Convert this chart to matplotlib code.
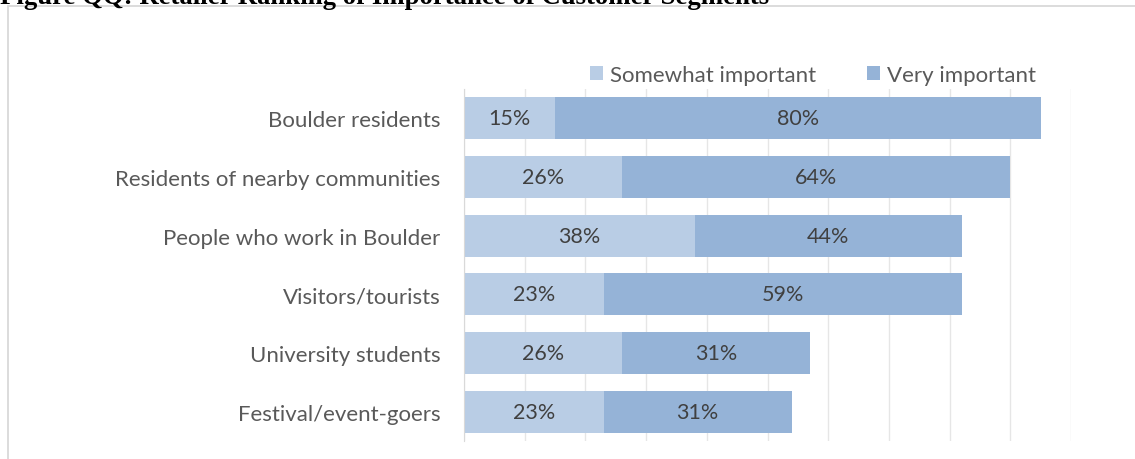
import matplotlib
matplotlib.use("Agg")
import matplotlib.pyplot as plt
from matplotlib.patches import Rectangle
import numpy as np

categories = ["Boulder residents", "Residents of nearby communities", "People who work in Boulder",
              "Visitors/tourists", "University students", "Festival/event-goers"]
somewhat = [15, 26, 38, 23, 26, 23]
very = [80, 64, 44, 59, 31, 31]
series_names = ["Somewhat important", "Very important"]
title = "Figure QQ: Retailer Ranking of Importance of Customer Segments"

c_light = "#B9CDE5"
c_dark = "#95B3D7"
FONT = "Lato"

W, H = 1135, 460
fig = plt.figure(figsize=(W / 100, H / 100), dpi=100)

# border box (bottom and right edges run off the picture)
fig.patches.append(Rectangle((8 / W, -0.2), 1.2, 1.2 - 7 / H, transform=fig.transFigure,
                             fill=False, edgecolor="#D9D9D9", linewidth=1.3))
fig.text(0 / W, 1 - 4 / H, title, family="Liberation Serif", fontweight="bold",
         fontsize=19.3, va="baseline", ha="left", color="black")

ax = fig.add_axes([464 / W, 1 - 442 / H, (1071 - 464) / W, (442 - 90) / H])
y = np.arange(len(categories))
h = 0.72
b1 = ax.barh(y, somewhat, height=h, color=c_light, label=series_names[0], zorder=2)
b2 = ax.barh(y, very, left=somewhat, height=h, color=c_dark, label=series_names[1], zorder=2)
for i in range(len(categories)):
    ax.text(somewhat[i] / 2, y[i], f"{somewhat[i]}%", ha="center", va="center",
            fontsize=15.5, color="#404040", family=FONT)
    ax.text(somewhat[i] + very[i] / 2, y[i], f"{very[i]}%", ha="center", va="center",
            fontsize=15.5, color="#404040", family=FONT)

ax.set_xlim(0, 100)
ax.set_ylim(len(categories) - 0.5, -0.5)
ax.set_xticks(np.arange(0, 101, 10))
ax.xaxis.grid(True, color="#E6E6E6", linewidth=1, zorder=0)
ax.tick_params(axis="x", length=0, labelbottom=False)
ax.tick_params(axis="y", length=0, pad=17)
ax.set_yticks(y)
ax.set_yticklabels(categories, fontsize=16, color="#595959", family=FONT)
for s in ["top", "right", "bottom"]:
    ax.spines[s].set_visible(False)
ax.spines["left"].set_color("#D9D9D9")
ax.set_axisbelow(True)

leg = fig.legend(handles=[b1, b2], loc="center", bbox_to_anchor=(813 / W, 1 - 76 / H),
                 ncol=2, frameon=False, prop={"family": FONT, "size": 16},
                 handlelength=0.6, handleheight=0.6, handletextpad=0.3, columnspacing=2.3)
for t in leg.get_texts():
    t.set_color("#595959")

fig.savefig("out.png", dpi=100)
